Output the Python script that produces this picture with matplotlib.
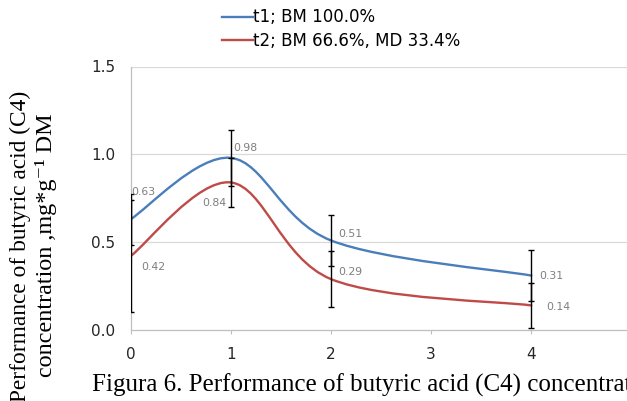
import numpy as np
import matplotlib
matplotlib.use("Agg")
import matplotlib.pyplot as plt
from matplotlib.path import Path
from matplotlib.patches import PathPatch
from matplotlib.lines import Line2D

# =========================
# DATA
# =========================
days = [0, 1, 2, 4]
t1_vals = [0.63, 0.98, 0.51, 0.31]
t2_vals = [0.42, 0.84, 0.29, 0.14]
t1_err = [0.145, 0.16, 0.145, 0.145]
t2_err = [0.32, 0.14, 0.16, 0.13]
series_names = ["t1; BM 100.0%", "t2; BM 66.6%, MD 33.4%"]
x_ticks = [0, 1, 2, 3, 4, 5]
y_ticks = [0.0, 0.5, 1.0, 1.5]

BLUE = "#4A7EBB"
RED = "#BE4B48"
GRID = "#D9D9D9"
AXIS = "#BFBFBF"


def smooth_path(xs, ys):
    # excel-like smoothed line (bezier through the points)
    pts = np.column_stack([xs, ys]).astype(float)
    n = len(pts)
    verts = [pts[0]]
    codes = [Path.MOVETO]
    for i in range(n - 1):
        p0 = pts[i - 1] if i > 0 else pts[i]
        p1 = pts[i]
        p2 = pts[i + 1]
        p3 = pts[i + 2] if i + 2 < n else pts[i + 1]
        c1 = p1 + (p2 - p0) / 6.0
        c2 = p2 - (p3 - p1) / 6.0
        verts += [c1, c2, p2]
        codes += [Path.CURVE4] * 3
    return Path(verts, codes)


fig = plt.figure(figsize=(6.27, 4.01), dpi=100)
ax = fig.add_axes([130.5 / 627, 71 / 401, 501 / 627, 263.5 / 401])

ax.set_xlim(0, 5)
ax.set_ylim(0, 1.5)

for y in y_ticks[1:]:
    ax.axhline(y, color=GRID, lw=0.9, zorder=0)

for s in ["top", "right"]:
    ax.spines[s].set_visible(False)
for s in ["left", "bottom"]:
    ax.spines[s].set_color(AXIS)
    ax.spines[s].set_linewidth(0.9)

ax.set_xticks(x_ticks)
ax.set_yticks(y_ticks)
ax.set_yticklabels(["%.1f" % v for v in y_ticks])
ax.tick_params(axis="x", length=3, color=AXIS, direction="out", pad=9,
               labelsize=11, labelcolor="#262626")
ax.tick_params(axis="y", length=0, pad=11, labelsize=11, labelcolor="#262626")
for lab in ax.get_xticklabels() + ax.get_yticklabels():
    lab.set_family("DejaVu Sans")

for vals, color in [(t1_vals, BLUE), (t2_vals, RED)]:
    ax.add_patch(PathPatch(smooth_path(days, vals), fill=False, edgecolor=color,
                           lw=1.7, zorder=3, capstyle="round"))

for vals, err in [(t1_vals, t1_err), (t2_vals, t2_err)]:
    ax.errorbar(days, vals, yerr=err, fmt="none", ecolor="black",
                elinewidth=1.0, capsize=2.2, capthick=1.0, zorder=4)

# data labels (pixel offset x, value offset y, alignment)
t1_off = [(1, 0.156, "left"), (3, 0.056, "left"), (7, 0.037, "left"), (8, -0.002, "left")]
t2_off = [(11, -0.061, "left"), (-4, -0.117, "right"), (7, 0.04, "left"), (15, -0.009, "left")]
for vals, offs in [(t1_vals, t1_off), (t2_vals, t2_off)]:
    for x, v, (dx, dy, ha) in zip(days, vals, offs):
        ax.annotate("%.2f" % v, (x, v + dy), xytext=(dx, 0), textcoords="offset pixels",
                    fontsize=7.8, color="#7F7F7F", va="center", ha=ha,
                    family="DejaVu Sans", zorder=5)

handles = [Line2D([], [], color=BLUE, lw=1.7), Line2D([], [], color=RED, lw=1.7)]
fig.legend(handles, series_names, loc="upper left", bbox_to_anchor=(222 / 627, 1 - 8.5 / 401),
           frameon=False, borderpad=0, borderaxespad=0, handlelength=1.86,
           handletextpad=0.0, labelspacing=0.3,
           prop={"family": "DejaVu Sans", "size": 12})

serif = ["Liberation Serif", "DejaVu Serif"]
fig.text(26 / 627, 1 - 246.5 / 401, "Performance of butyric acid (C4)", rotation=90,
         rotation_mode="anchor", ha="center", va="baseline",
         family=serif, fontsize=16.8)
fig.text(52 / 627, 1 - 245.5 / 401, "concentration ,mg*g\u207b\u00b9 DM", rotation=90,
         rotation_mode="anchor", ha="center", va="baseline",
         family=serif, fontsize=17.4)

fig.text(92 / 627, 9 / 401, "Figura 6. Performance of butyric acid (C4) concentration",
         ha="left", va="baseline", family=serif, fontsize=18)

fig.savefig("out.png", dpi=100)
